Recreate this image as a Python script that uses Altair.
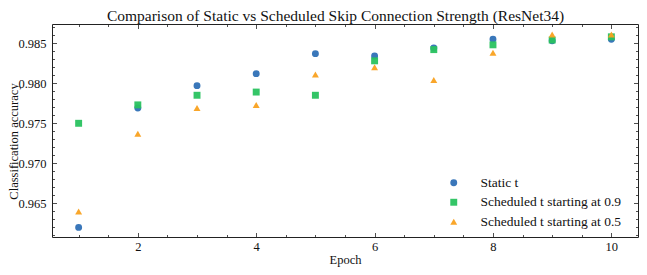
import altair as alt
import pandas as pd

epochs = [1, 2, 3, 4, 5, 6, 7, 8, 9, 10]
series_names = ["Static t", "Scheduled t starting at 0.9", "Scheduled t starting at 0.5"]
static_t = [0.9620, 0.9769, 0.9797, 0.9812, 0.9837, 0.9834, 0.9844, 0.9855, 0.9853, 0.9855]
sched_09 = [0.9750, 0.9773, 0.9785, 0.9789, 0.9785, 0.9828, 0.9842, 0.9848, 0.9854, 0.9858]
sched_05 = [0.9640, 0.9737, 0.9769, 0.9773, 0.9811, 0.9820, 0.9804, 0.9838, 0.9861, 0.9861]
colors = ["#2f70b6", "#29c25f", "#f9a11f"]
shapes = ["circle", "square", "triangle-up"]

x_major = [2, 4, 6, 8, 10]
x_ticks_all = [1 + 0.5 * i for i in range(19)]
y_major = [0.965, 0.970, 0.975, 0.980, 0.985]
y_ticks_all = [round(0.961 + 0.001 * i, 3) for i in range(27)]

rows = []
for name, vals in zip(series_names, [static_t, sched_09, sched_05]):
    for e, v in zip(epochs, vals):
        rows.append({"epoch": e, "acc": v, "series": name})
df = pd.DataFrame(rows)

W, H = 586, 213
FONT = "Liberation Serif"
xs = alt.Scale(domain=[0.55, 10.45], nice=False, zero=False)
ys = alt.Scale(domain=[0.9608, 0.9874], nice=False, zero=False)

x_tick_size = {"condition": {"test": "datum.value % 2 === 0", "value": 4.5}, "value": 2.5}
y_tick_size = {"condition": {"test": "abs(round(datum.value * 200) - datum.value * 200) < 0.01", "value": 4.5}, "value": 2.5}

legend = alt.Legend(orient="none", legendX=395, legendY=152, padding=0, labelOffset=20,
                    rowPadding=4.5, symbolSize=48, labelFont=FONT, labelFontSize=13.5,
                    labelColor="#111", symbolStrokeWidth=0, symbolOpacity=0.95)

points = alt.Chart(df).mark_point(filled=True, size=48, opacity=0.95).encode(
    x=alt.X("epoch:Q", scale=xs,
            axis=alt.Axis(values=x_major, ticks=False, tickSize=0, domain=False, grid=False,
                          labelFont=FONT, labelFontSize=12.5, titleFont=FONT, titleFontSize=12.5,
                          labelBaseline="alphabetic", labelPadding=13, title="Epoch",
                          titleBaseline="alphabetic", titleY=26)),
    y=alt.Y("acc:Q", scale=ys,
            axis=alt.Axis(values=y_major, ticks=False, tickSize=0, domain=False, grid=False,
                          labelFont=FONT, labelFontSize=12.5, titleFont=FONT, titleFontSize=12.5,
                          format=".3f", labelPadding=6, title="Classification accuracy",
                          titleBaseline="alphabetic", titleAlign="center", titleAngle=270,
                          titleX=-35, titleY=117)),
    color=alt.Color("series:N", scale=alt.Scale(domain=series_names, range=colors), title=None, legend=legend),
    shape=alt.Shape("series:N", scale=alt.Scale(domain=series_names, range=shapes), title=None, legend=legend),
)

ticks_a = alt.Chart(df).mark_point(opacity=0).encode(
    x=alt.X("epoch:Q", scale=xs,
            axis=alt.Axis(orient="top", offset=-H, values=x_ticks_all, labels=False, domain=False,
                          grid=False, tickSize=x_tick_size, tickColor="#222", tickWidth=0.8, title="")),
    y=alt.Y("acc:Q", scale=ys,
            axis=alt.Axis(orient="right", offset=-W, values=y_ticks_all, labels=False, domain=False,
                          grid=False, tickSize=y_tick_size, tickColor="#222", tickWidth=0.8, title="")),
)

ticks_b = alt.Chart(df).mark_point(opacity=0).encode(
    x=alt.X("epoch:Q", scale=xs,
            axis=alt.Axis(orient="bottom", offset=-H, values=x_ticks_all, labels=False, domain=False,
                          grid=False, tickSize=x_tick_size, tickColor="#222", tickWidth=0.8, title="")),
    y=alt.Y("acc:Q", scale=ys,
            axis=alt.Axis(orient="left", offset=-W, values=y_ticks_all, labels=False, domain=False,
                          grid=False, tickSize=y_tick_size, tickColor="#222", tickWidth=0.8, title="")),
)

chart = alt.layer(ticks_a, ticks_b, points).resolve_scale(
    x="independent", y="independent", color="shared", shape="shared"
).resolve_axis(x="independent", y="independent").properties(
    width=W, height=H,
    autosize=alt.AutoSizeParams(type="none"),
    padding={"left": 44, "top": 16, "right": 1, "bottom": 30},
    title=alt.TitleParams(
        "Comparison of Static vs Scheduled Skip Connection Strength (ResNet34)",
        font=FONT, fontSize=15.5, fontWeight="normal", color="#111", frame="group",
        anchor="middle", offset=-12.5, baseline="alphabetic", dx=-9.5),
).configure_view(stroke="#222", strokeWidth=1).configure_axis(
    labelFont=FONT, titleFont=FONT, titleFontWeight="normal", labelColor="#111", titleColor="#111"
)

chart.save("out.html", embed_options={"renderer": "svg", "actions": False})
